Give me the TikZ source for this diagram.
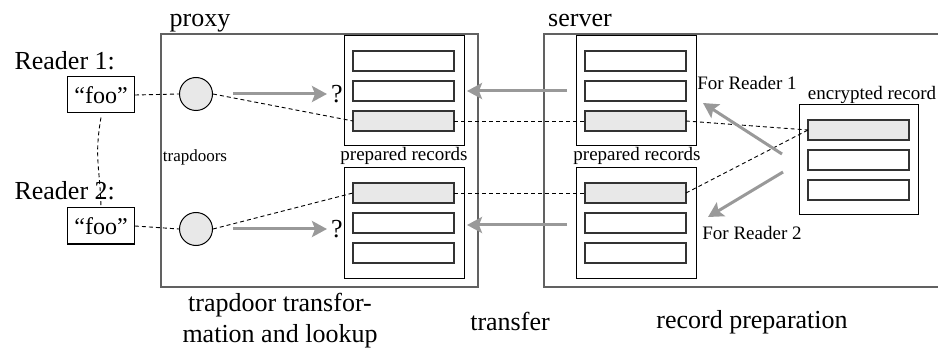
\documentclass[tikz,border=0pt]{standalone}
\usepackage{fontspec}
\setmainfont{Liberation Serif}
\usetikzlibrary{arrows.meta}

\begin{document}
\begin{tikzpicture}[x=1pt,y=-1pt,
  frame/.style={draw=black!62,line width=1.3pt},
  stack/.style={draw=black,line width=1pt,anchor=north west,inner sep=0pt,outer sep=0pt,
    minimum width=120pt,minimum height=110pt},
  rec/.style={draw=black!80,line width=1.1pt,anchor=north west,inner sep=0pt,outer sep=0pt,
    minimum width=101pt,minimum height=20pt,fill=white},
  hit/.style={rec,fill=black!9},
  query/.style={draw=black,line width=1pt,inner sep=0pt,minimum width=67pt,minimum height=36pt,
    font=\fontsize{24}{28}\selectfont},
  td/.style={circle,draw=black,line width=1pt,fill=black!9,minimum size=33pt,inner sep=0pt},
  link/.style={dashed,dash pattern=on 4pt off 3pt,line width=0.9pt,black},
  flow/.style={draw=black!40,line width=3pt,-{Stealth[length=15pt,width=16pt,inset=3pt]}},
  big/.style={font=\fontsize{26}{30}\selectfont},
  small/.style={font=\fontsize{19}{22}\selectfont},
  tiny/.style={font=\fontsize{17}{20}\selectfont}
]
\useasboundingbox (0,0) rectangle (938,350);

% proxy and server frames
\node[frame,anchor=north west,inner sep=0pt,outer sep=0pt,minimum width=317pt,minimum height=253pt] (proxy) at (161,34) {};
\draw[frame] (938,34) coordinate (srvtr) -- (544,34) coordinate (srvtl) -- (544,287) coordinate (srvbl) -- (938,287) coordinate (srvbr);
\node[big,anchor=base] (proxylbl) at (200,27) {proxy};
\node[big,anchor=base] (serverlbl) at (580,27) {server};

% readers
\node[big,anchor=base west] (r1lbl) at (11,70) {Reader 1:};
\node[big,anchor=base west] (r2lbl) at (11,200) {Reader 2:};
\node[query] (q1) at (101,95) {“foo”};
\node[query] (q2) at (101,226) {“foo”};

% trapdoors
\node[td] (t1) at (196,94) {};
\node[td] (t2) at (196,229) {};
\node[tiny] (tdlbl) at (195,157) {trapdoors};

% prepared records on the proxy
\node[stack] (pa) at (344,36) {};
\node[rec] (pa1) at (353,51) {};
\node[rec] (pa2) at (353,81) {};
\node[hit] (pa3) at (353,111) {};
\node[stack] (pb) at (344,168) {};
\node[hit] (pb1) at (353,183) {};
\node[rec] (pb2) at (353,213) {};
\node[rec] (pb3) at (353,243) {};
\node[small] (palbl) at (404,156) {prepared records};

% prepared records on the server
\node[stack] (sa) at (576,36) {};
\node[rec] (sa1) at (585,51) {};
\node[rec] (sa2) at (585,81) {};
\node[hit] (sa3) at (585,111) {};
\node[stack] (sb) at (576,168) {};
\node[hit] (sb1) at (585,183) {};
\node[rec] (sb2) at (585,213) {};
\node[rec] (sb3) at (585,243) {};
\node[small] (salbl) at (637,156) {prepared records};

% encrypted record
\node[stack,minimum width=119pt] (enc) at (799,105) {};
\node[hit] (e1) at (808,120) {};
\node[rec] (e2) at (808,150) {};
\node[rec] (e3) at (808,180) {};
\node[small] (enclbl) at (872,95) {encrypted record};

% lookup marks
\node[big] (qm1) at (337,94) {?};
\node[big] (qm2) at (337,229) {?};

% dashed correspondences
\draw[link] (q1.east) -- (t1.west);
\draw[link] (q2.east) -- (t2.west);
\draw[link] ([yshift=-4pt]q1.south) .. controls +(-7,40) and +(-1,-40) .. (q2.north);
\draw[link] (t1.east) -- (pa3.west);
\draw[link] (pa3.east) -- (sa3.west);
\draw[link] (sa3.east) -- (e1.west);
\draw[link] (t2.east) -- (pb1.west);
\draw[link] (pb1.east) -- (sb1.west);
\draw[link] (sb1.east) -- (e1.west);

% data flow arrows
\coordinate (f1s) at (233,94);  \coordinate (f1e) at (327,94);
\coordinate (f2s) at (233,229); \coordinate (f2e) at (327,229);
\coordinate (f3s) at (567,91);  \coordinate (f3e) at (467,91);
\coordinate (f4s) at (567,225); \coordinate (f4e) at (467,225);
\coordinate (f5s) at (782,154); \coordinate (f5e) at (703,103);
\coordinate (f6s) at (783,172); \coordinate (f6e) at (708,217);
\draw[flow] (f1s) -- (f1e);
\draw[flow] (f2s) -- (f2e);
\draw[flow] (f3s) -- (f3e);
\draw[flow] (f4s) -- (f4e);
\draw[flow] (f5s) -- (f5e);
\draw[flow] (f6s) -- (f6e);
\node[small] (for1) at (747,83) {For Reader 1};
\node[small] (for2) at (752,233) {For Reader 2};

% phase captions
\node[big,anchor=base] (ph1a) at (280,311) {trapdoor transfor-};
\node[big,anchor=base] (ph1b) at (280,342) {mation and lookup};
\node[big,anchor=base] (ph2) at (510,330) {transfer};
\node[big,anchor=base] (ph3) at (752,328) {record preparation};
\end{tikzpicture}
\end{document}
